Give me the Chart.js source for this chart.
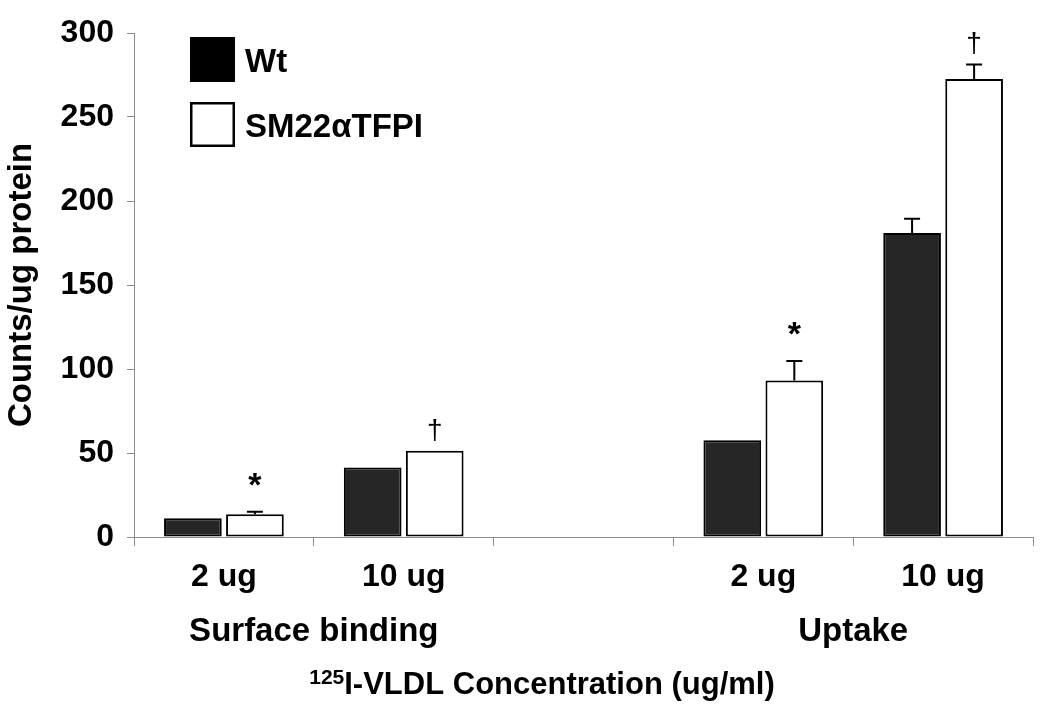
<!DOCTYPE html>
<html>
<head>
<meta charset="utf-8">
<script src="https://cdn.jsdelivr.net/npm/chart.js@4/dist/chart.umd.min.js"></script>
<style>
  html, body { margin: 0; padding: 0; background: #fff; }
  #wrap { width: 1050px; height: 705px; }
</style>
</head>
<body>
<div id="wrap"><canvas id="vldlChart" width="1050" height="705"></canvas></div>
<script>
// categories (middle slot is the empty gap between groups)
const categories = ["2 ug", "10 ug", "", "2 ug", "10 ug"];
const groups = [
  { label: "Surface binding", from: 0, to: 1 },
  { label: "Uptake", from: 3, to: 4 },
];
const wtValues = [11.2, 41.4, null, 57.6, 181];
const wtErrors = [0, 0, 0, 0, 8.5];
const tfpiValues = [13.6, 51.4, null, 93.2, 272.6];
const tfpiErrors = [1.5, 0, 0, 11.5, 8.7];
const tfpiMarks = ["*", "\u2020", null, "*", "\u2020"];
const yTicks = [0, 50, 100, 150, 200, 250, 300];

const FONT = "'Liberation Sans', Arial, sans-serif";
const AXIS = "#8c8c8c";

// upward error bars + significance marks
const errorBarPlugin = {
  id: "errorBars",
  afterDatasetsDraw(chart) {
    const ctx = chart.ctx;
    const y = chart.scales.y;
    const errs = [wtErrors, tfpiErrors];
    ctx.save();
    chart.data.datasets.forEach((ds, di) => {
      const meta = chart.getDatasetMeta(di);
      meta.data.forEach((bar, i) => {
        const v = ds.data[i];
        if (v == null) return;
        const e = errs[di][i];
        let topPx = y.getPixelForValue(v);
        if (e > 0) {
          const capPx = y.getPixelForValue(v + e);
          ctx.strokeStyle = "#000";
          ctx.lineWidth = 2;
          ctx.beginPath();
          ctx.moveTo(bar.x, topPx);
          ctx.lineTo(bar.x, capPx);
          ctx.moveTo(bar.x - 8, capPx);
          ctx.lineTo(bar.x + 8, capPx);
          ctx.stroke();
          topPx = capPx;
        }
        if (di === 1 && tfpiMarks[i]) {
          ctx.fillStyle = "#000";
          ctx.textAlign = "center";
          if (tfpiMarks[i] === "*") {
            ctx.font = "bold 34px " + FONT;
            ctx.textBaseline = "middle";
            ctx.fillText("*", bar.x, topPx - 25);
          } else {
            ctx.font = "28px " + FONT;
            ctx.textBaseline = "alphabetic";
            ctx.fillText("\u2020", bar.x, topPx - 12);
          }
        }
      });
    });
    ctx.restore();
  },
};

// legend, group labels and the axis title with superscript
const labelsPlugin = {
  id: "extraLabels",
  afterDraw(chart) {
    const ctx = chart.ctx;
    const x = chart.scales.x;
    const area = chart.chartArea;
    ctx.save();
    ctx.fillStyle = "#000";

    // legend
    const lx = area.left + 56, ly = area.top + 4, box = 45;
    chart.data.datasets.forEach((ds, i) => {
      const top = ly + i * 65;
      ctx.fillStyle = i === 0 ? "#000" : "#fff";
      ctx.fillRect(lx, top, box, box);
      ctx.strokeStyle = "#000";
      ctx.lineWidth = 2.5;
      ctx.strokeRect(lx + 1.25, top + 1.25, box - 2.5, box - 2.5);
      ctx.fillStyle = "#000";
      ctx.font = "bold 33px " + FONT;
      ctx.textAlign = "left";
      ctx.textBaseline = "middle";
      ctx.fillText(ds.label, lx + box + 10, top + box / 2 + 3);
    });

    // group labels
    ctx.font = "bold 33px " + FONT;
    ctx.textAlign = "center";
    ctx.textBaseline = "alphabetic";
    groups.forEach(g => {
      const cx = (x.getPixelForValue(g.from) + x.getPixelForValue(g.to)) / 2;
      ctx.fillText(g.label, cx, area.bottom + 104);
    });

    // x title with superscript
    const sup = "125", main = "I-VLDL Concentration (ug/ml)";
    ctx.font = "bold 21px " + FONT;
    const wSup = ctx.measureText(sup).width;
    ctx.font = "bold 31px " + FONT;
    const wMain = ctx.measureText(main).width;
    const tx = 542 - (wSup + wMain) / 2;
    const ty = area.bottom + 157;
    ctx.textAlign = "left";
    ctx.fillText(main, tx + wSup, ty);
    ctx.font = "bold 21px " + FONT;
    ctx.fillText(sup, tx, ty - 10);
    ctx.restore();
  },
};

new Chart(document.getElementById("vldlChart").getContext("2d"), {
  type: "bar",
  data: {
    labels: categories,
    datasets: [
      {
        label: "Wt",
        data: wtValues,
        backgroundColor: "#262626",
        borderColor: "#000",
        borderWidth: 2,
        borderSkipped: false,
      },
      {
        label: "SM22\u03b1TFPI",
        data: tfpiValues,
        backgroundColor: "#fff",
        borderColor: "#000",
        borderWidth: 2,
        borderSkipped: false,
      },
    ],
  },
  options: {
    responsive: false,
    animation: false,
    devicePixelRatio: 1,
    layout: { padding: { top: 33, right: 17, left: 0, bottom: 0 } },
    categoryPercentage: 0.69,
    barPercentage: 0.93,
    plugins: {
      legend: { display: false },
      tooltip: { enabled: false },
    },
    scales: {
      x: {
        grid: {
          offset: true,
          drawOnChartArea: false,
          color: AXIS,
          tickLength: 9,
          tickColor: AXIS,
        },
        border: { color: AXIS, width: 1 },
        ticks: {
          color: "#000",
          font: { family: FONT, size: 32, weight: "bold" },
          padding: 12,
          maxRotation: 0,
          autoSkip: false,
        },
        afterFit(scale) { scale.height = 168; },
      },
      y: {
        min: 0,
        max: 300,
        afterBuildTicks(scale) { scale.ticks = yTicks.map(v => ({ value: v })); },
        grid: {
          drawOnChartArea: false,
          color: AXIS,
          tickLength: 7,
          tickColor: AXIS,
        },
        border: { color: AXIS, width: 1 },
        ticks: {
          color: "#000",
          font: { family: FONT, size: 32, weight: "bold" },
          padding: 13,
        },
        title: {
          display: true,
          text: "Counts/ug protein",
          color: "#000",
          font: { family: FONT, size: 33, weight: "bold" },
          padding: { top: 2, bottom: 0 },
        },
        afterFit(scale) { scale.width = 134; },
      },
    },
  },
  plugins: [errorBarPlugin, labelsPlugin],
});
</script>
</body>
</html>
